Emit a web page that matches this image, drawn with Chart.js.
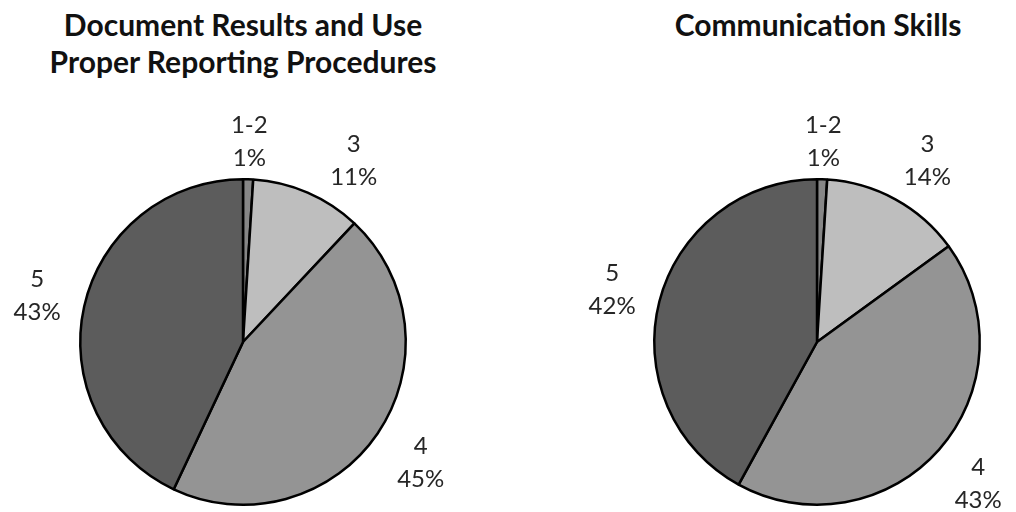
<!DOCTYPE html>
<html>
<head>
<meta charset="utf-8">
<script src="https://cdn.jsdelivr.net/npm/chart.js@4.4.1/dist/chart.umd.min.js"></script>
<style>
  html, body { margin: 0; padding: 0; background: #ffffff; }
  #wrap { position: relative; width: 1016px; height: 512px; overflow: hidden; background: #ffffff; }
  .title {
    position: absolute; top: 6px; text-align: center; white-space: nowrap;
    font-family: Lato, "Open Sans", sans-serif; font-weight: bold; line-height: 37px; color: #111111;
  }
  canvas { position: absolute; top: 0; }
</style>
</head>
<body>
<div id="wrap">
  <div class="title" id="docTitle" style="left:0;width:486px"></div>
  <div class="title" id="commTitle" style="left:618px;width:400px"></div>
  <canvas id="docChart" width="508" height="512" style="left:0"></canvas>
  <canvas id="commChart" width="508" height="512" style="left:508px"></canvas>
</div>
<script>
// ratings, in the order the slices run clockwise from 12 o'clock
const categories = ["1-2", "3", "4", "5"];
const docValues = [1, 11, 45, 43];
const commValues = [1, 14, 43, 42];
const docTitle = ["Document Results and Use", "Proper Reporting Procedures"];
const commTitle = ["Communication Skills"];
const sliceColors = ["#868686", "#bebebe", "#949494", "#5c5c5c"];

// size the titles so the first line is about as wide as in the original (~360px)
const probe = document.createElement("canvas").getContext("2d");
probe.font = "bold 100px Lato";
const titleSize = Math.min(30, (360 / probe.measureText(docTitle[0]).width) * 100);
for (const [id, lines] of [["docTitle", docTitle], ["commTitle", commTitle]]) {
  const el = document.getElementById(id);
  el.innerHTML = lines.join("<br>");
  el.style.fontSize = titleSize.toFixed(1) + "px";
}

const LINE_GAP = 33;
const MIN_SPACING = 62; // free room kept between two neighbouring label boxes

// "5\n43%" style labels sitting just outside the rim
const outsideLabels = {
  id: "outsideLabels",
  afterDatasetsDraw(chart) {
    const ctx = chart.ctx;
    const meta = chart.getDatasetMeta(0);
    const values = chart.data.datasets[0].data;
    ctx.save();
    ctx.font = "24px Lato, 'Open Sans', sans-serif";
    ctx.fillStyle = "#262626";
    ctx.textAlign = "center";
    ctx.textBaseline = "middle";
    const placed = [];
    meta.data.forEach((arc, i) => {
      const p = arc.getProps(["x", "y", "startAngle", "endAngle", "outerRadius"], true);
      const lines = [chart.data.labels[i], values[i] + "%"];
      const w = Math.max(...lines.map((t) => ctx.measureText(t).width));
      const h = LINE_GAP + 17;
      const boxAt = (ang) => {
        const cos = Math.cos(ang);
        const sin = Math.sin(ang);
        const gap = 12 + 8 * Math.abs(cos);
        const d = p.outerRadius + gap + (Math.abs(cos) * w) / 2 + (Math.abs(sin) * h) / 2;
        return { cx: p.x + cos * d, cy: p.y + sin * d, w, h };
      };
      const crowded = (b) =>
        placed.some(
          (o) =>
            Math.abs(o.cy - b.cy) < (o.h + b.h) / 2 &&
            Math.abs(o.cx - b.cx) < (o.w + b.w) / 2 + MIN_SPACING
        );
      let ang = (p.startAngle + p.endAngle) / 2;
      let box = boxAt(ang);
      let steps = 0;
      while (crowded(box) && steps < 60) {
        ang += Math.PI / 360;
        box = boxAt(ang);
        steps++;
      }
      placed.push(box);
      ctx.fillText(lines[0], box.cx, box.cy - LINE_GAP / 2);
      ctx.fillText(lines[1], box.cx, box.cy + LINE_GAP / 2);
    });
    ctx.restore();
  },
};

const makePie = (id, values, padding) => {
  return new Chart(document.getElementById(id), {
    type: "pie",
    data: {
      labels: categories,
      datasets: [
        {
          data: values,
          backgroundColor: sliceColors,
          borderColor: "#000000",
          borderWidth: 2.5,
        },
      ],
    },
    options: {
      responsive: false,
      animation: false,
      layout: { padding: padding },
      plugins: {
        legend: { display: false },
        tooltip: { enabled: false },
      },
    },
    plugins: [outsideLabels],
  });
};

makePie("docChart", docValues, { left: 78, right: 100, top: 178, bottom: 6 });
makePie("commChart", commValues, { left: 144, right: 34, top: 178, bottom: 6 });
</script>
</body>
</html>
